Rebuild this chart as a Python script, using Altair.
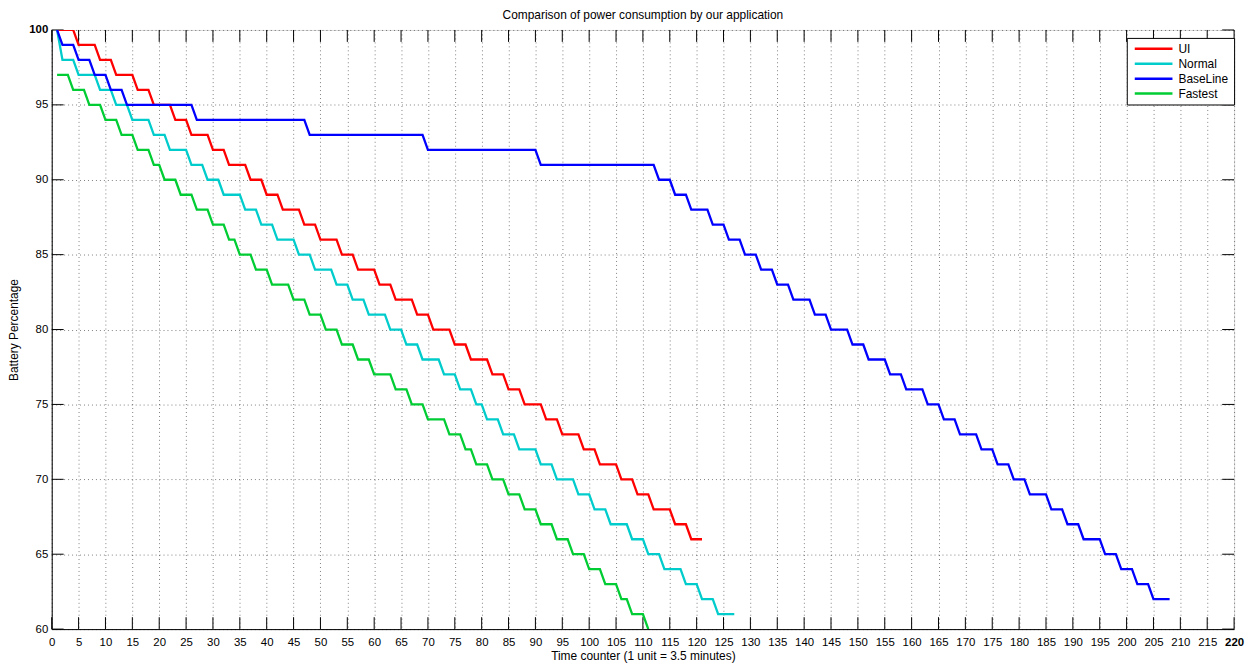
import altair as alt
import pandas as pd

FONT = "Liberation Sans"

series_names = ["UI", "Normal", "BaseLine", "Fastest"]
series_colors = ["#FF0000", "#00CCCC", "#0000FF", "#00CC33"]

# Each series is a staircase: battery level held from start to end (time counter)
ui_levels = [100, 99, 98, 97, 96, 95, 94, 93, 92, 91, 90, 89, 88, 87, 86, 85, 84, 83,
             82, 81, 80, 79, 78, 77, 76, 75, 74, 73, 72, 71, 70, 69, 68, 67, 66]
ui_start = [1, 5, 9, 12, 16, 19, 23, 26, 30, 33, 37, 40, 43, 47, 50, 54, 57, 61,
            64, 68, 71, 75, 78, 82, 85, 88, 92, 95, 99, 102, 106, 109, 112, 116, 119]
ui_end = [4, 8, 11, 15, 18, 22, 25, 29, 32, 36, 39, 42, 46, 49, 53, 56, 60, 63,
          67, 70, 74, 77, 81, 84, 87, 91, 94, 98, 101, 105, 108, 111, 115, 118, 121]

normal_levels = [100, 98, 97, 96, 95, 94, 93, 92, 91, 90, 89, 88, 87, 86, 85, 84, 83, 82,
                 81, 80, 79, 78, 77, 76, 75, 74, 73, 72, 71, 70, 69, 68, 67, 66, 65, 64,
                 63, 62, 61]
normal_start = [1, 2, 5, 9, 12, 15, 19, 22, 26, 29, 32, 36, 39, 42, 46, 49, 53, 56,
                59, 63, 66, 69, 73, 76, 79, 81, 84, 87, 91, 94, 98, 101, 104, 108, 111, 114,
                118, 121, 124]
normal_end = [1, 4, 8, 11, 14, 18, 21, 25, 28, 31, 35, 38, 41, 45, 48, 52, 55, 58,
              62, 65, 68, 72, 75, 78, 80, 83, 86, 90, 93, 97, 100, 103, 107, 110, 113, 117,
              120, 123, 127]

baseline_levels = [100, 99, 98, 97, 96, 95, 94, 93, 92, 91, 90, 89, 88, 87, 86, 85, 84, 83,
                   82, 81, 80, 79, 78, 77, 76, 75, 74, 73, 72, 71, 70, 69, 68, 67, 66, 65,
                   64, 63, 62]
baseline_start = [1, 2, 5, 8, 11, 14, 27, 48, 70, 91, 113, 116, 119, 123, 126, 129, 132, 135,
                  138, 142, 145, 149, 152, 156, 159, 163, 166, 169, 173, 176, 179, 182, 186, 189, 192, 196,
                  199, 202, 205]
baseline_end = [1, 4, 7, 10, 13, 26, 47, 69, 90, 112, 115, 118, 122, 125, 128, 131, 134, 137,
                141, 144, 148, 151, 155, 158, 162, 165, 168, 172, 175, 178, 181, 185, 188, 191, 195, 198,
                201, 204, 208]

fastest_levels = [97, 96, 95, 94, 93, 92, 91, 90, 89, 88, 87, 86, 85, 84, 83, 82, 81, 80,
                  79, 78, 77, 76, 75, 74, 73, 72, 71, 70, 69, 68, 67, 66, 65, 64, 63, 62,
                  61, 60]
fastest_start = [1, 4, 7, 10, 13, 16, 19, 21, 24, 27, 30, 33, 35, 38, 41, 45, 48, 51,
                 54, 57, 60, 64, 67, 70, 74, 77, 79, 82, 85, 88, 91, 94, 97, 100, 103, 106,
                 108, 111]
fastest_end = [3, 6, 9, 12, 15, 18, 20, 23, 26, 29, 32, 34, 37, 40, 44, 47, 50, 53,
               56, 59, 63, 66, 69, 73, 76, 78, 81, 84, 87, 90, 93, 96, 99, 102, 105, 107,
               110, 111]

x_ticks = list(range(0, 225, 5))
y_ticks = list(range(60, 105, 5))

rows = []
for name, levels, starts, ends in [
    ("UI", ui_levels, ui_start, ui_end),
    ("Normal", normal_levels, normal_start, normal_end),
    ("BaseLine", baseline_levels, baseline_start, baseline_end),
    ("Fastest", fastest_levels, fastest_start, fastest_end),
]:
    seq = 0
    for lev, s, e in zip(levels, starts, ends):
        rows.append({"series": name, "t": s, "pct": lev, "seq": seq})
        seq += 1
        if e != s:
            rows.append({"series": name, "t": e, "pct": lev, "seq": seq})
            seq += 1
df = pd.DataFrame(rows)

W, H = 1190, 603
TICK = 12

x_scale = alt.Scale(domain=[0, 220], nice=False, zero=False)
y_scale = alt.Scale(domain=[60, 100], nice=False, zero=False)

x_axis = alt.Axis(
    values=x_ticks, title="Time counter (1 unit = 3.5 minutes)",
    grid=True, gridDash=[1, 3], gridColor="#000000", gridOpacity=0.5, gridWidth=1,
    ticks=False, tickSize=0, domain=True, domainColor="#000000", domainWidth=1,
    labelFont=FONT, labelFontSize=11.5, labelColor="#000000", labelPadding=7,
    labelFlush=False, labelOverlap=False,
    labelFontWeight={"condition": {"test": "datum.value == 220", "value": "bold"}, "value": "normal"},
    titleFont=FONT, titleFontSize=12, titleFontWeight="normal", titleColor="#000000",
    titleX=W / 2, titleY=31, titleAlign="center", titleBaseline="alphabetic",
)
y_axis = alt.Axis(
    values=y_ticks, title="Battery Percentage",
    grid=True, gridDash=[1, 3], gridColor="#000000", gridOpacity=0.5, gridWidth=1,
    ticks=False, tickSize=0, domain=True, domainColor="#000000", domainWidth=1,
    labelFont=FONT, labelFontSize=11.5, labelColor="#000000", labelPadding=4,
    labelFlush=False, labelOverlap=False,
    labelFontWeight={"condition": {"test": "datum.value == 100", "value": "bold"}, "value": "normal"},
    titleFont=FONT, titleFontSize=12, titleFontWeight="normal", titleColor="#000000",
    titleX=-38, titleY=H / 2, titleAngle=270, titleAlign="center", titleBaseline="middle",
)

lines = alt.Chart(df).mark_line(strokeWidth=2.3, clip=True).encode(
    x=alt.X("t:Q", scale=x_scale, axis=x_axis),
    y=alt.Y("pct:Q", scale=y_scale, axis=y_axis),
    color=alt.Color(
        "series:N",
        scale=alt.Scale(domain=series_names, range=series_colors),
        legend=alt.Legend(
            title=None, orient="none", legendX=1082, legendY=8,
            symbolType="M-4,0H4", symbolSize=90, symbolStrokeWidth=2.5,
            labelFont=FONT, labelFontSize=12, labelColor="#000000", labelOffset=19,
            strokeColor="#000000", fillColor="#FFFFFF", padding=5, rowPadding=3,
            symbolOffset=16,
        ),
    ),
    order="seq:Q",
)

xt_df = pd.DataFrame({"t": x_ticks})
yt_df = pd.DataFrame({"pct": y_ticks})

xt_bottom = alt.Chart(xt_df).mark_rule(color="#000000", strokeWidth=1).encode(
    x=alt.X("t:Q", scale=x_scale, axis=x_axis), y=alt.value(H), y2=alt.value(H - TICK))
xt_top = alt.Chart(xt_df).mark_rule(color="#000000", strokeWidth=1).encode(
    x=alt.X("t:Q", scale=x_scale, axis=x_axis), y=alt.value(0), y2=alt.value(TICK))
yt_left = alt.Chart(yt_df).mark_rule(color="#000000", strokeWidth=1).encode(
    y=alt.Y("pct:Q", scale=y_scale, axis=y_axis), x=alt.value(0), x2=alt.value(TICK))
yt_right = alt.Chart(yt_df).mark_rule(color="#000000", strokeWidth=1).encode(
    y=alt.Y("pct:Q", scale=y_scale, axis=y_axis), x=alt.value(W), x2=alt.value(W - TICK))

chart = alt.layer(xt_bottom, xt_top, yt_left, yt_right, lines).properties(
    width=W, height=H,
    title=alt.TitleParams(
        "Comparison of power consumption by our application",
        font=FONT, fontSize=12, fontWeight="normal", color="#000000",
        anchor="middle", offset=2,
    ),
    padding={"left": 44, "top": 20, "right": 14, "bottom": 32},
    autosize=alt.AutoSizeParams(type="none"),
).configure_view(
    stroke="#000000", strokeWidth=1
).configure(background="#FFFFFF")

chart.save("out.html", embed_options={"renderer": "svg", "actions": False})
